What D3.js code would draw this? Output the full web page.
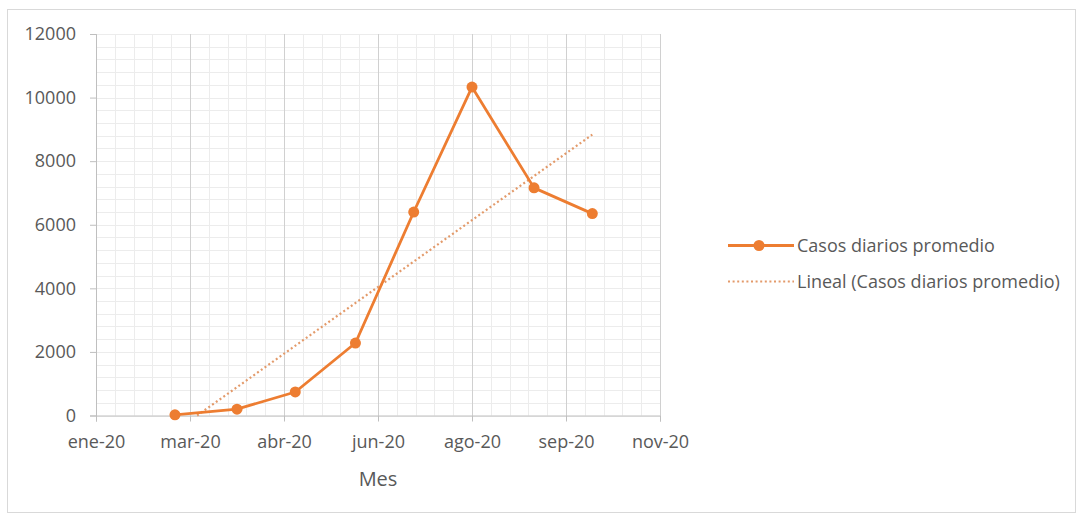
<!DOCTYPE html>
<html>
<head>
<meta charset="utf-8">
<script src="https://cdn.jsdelivr.net/npm/d3@7"></script>
<style>
  html, body { margin: 0; padding: 0; background: #fff; }
  svg { display: block; }
  text { font-family: "Open Sans", sans-serif; fill: #595959; }
</style>
</head>
<body>
<svg id="chart" width="1079" height="515"></svg>
<script>
// Monthly average of daily cases, 2020
const pointDates = ["2020-03-02", "2020-04-04", "2020-05-05", "2020-06-06",
                    "2020-07-07", "2020-08-07", "2020-09-09", "2020-10-10"];
const casosPromedio = [20, 200, 740, 2280, 6400, 10330, 7160, 6350];

// Axis settings (date axis: min, max, step in days)
const xMinDate = "2020-01-20";
const xMaxDate = "2020-11-15";
const xMajorDays = 50;
const xMinorDays = 10;
const yTicks = [0, 2000, 4000, 6000, 8000, 10000, 12000];
const yMinorStep = 400;

const seriesName = "Casos diarios promedio";
const trendName = "Lineal (Casos diarios promedio)";
const xTitle = "Mes";

const orange = "#ED7D31";
const trendColor = "#e39a6a";
const months = ["ene", "feb", "mar", "abr", "may", "jun", "jul", "ago", "sep", "oct", "nov", "dic"];
const fmtDate = d => months[d.getUTCMonth()] + "-" + String(d.getUTCFullYear()).slice(2);

const svg = d3.select("#chart");
const parse = d3.utcParse("%Y-%m-%d");
const dayMs = 86400000;

const x0 = parse(xMinDate), x1 = parse(xMaxDate);
const x = d3.scaleUtc().domain([x0, x1]).range([96, 660]);
const y = d3.scaleLinear().domain([0, 12000]).range([415.5, 34]);

const data = pointDates.map((d, i) => ({ date: parse(d), value: casosPromedio[i] }));

// chart frame
svg.append("rect").attr("x", 7.5).attr("y", 9.5).attr("width", 1068).attr("height", 503)
  .attr("fill", "#fff").attr("stroke", "#d9d9d9");

const span = (x1 - x0) / dayMs;
const majorX = d3.range(0, span + 1, xMajorDays).map(k => new Date(+x0 + k * dayMs));
const minorX = d3.range(0, span + 1, xMinorDays).map(k => new Date(+x0 + k * dayMs));
const minorY = d3.range(0, 12001, yMinorStep);

const grid = svg.append("g");
grid.selectAll("line.hmin").data(minorY).join("line")
  .attr("x1", x.range()[0]).attr("x2", x.range()[1])
  .attr("y1", d => Math.round(y(d)) + 0.5).attr("y2", d => Math.round(y(d)) + 0.5)
  .attr("stroke", "#ececec");
grid.selectAll("line.vmin").data(minorX).join("line")
  .attr("x1", d => Math.round(x(d)) + 0.5).attr("x2", d => Math.round(x(d)) + 0.5)
  .attr("y1", y(12000)).attr("y2", y(0))
  .attr("stroke", "#ececec");
grid.selectAll("line.vmaj").data(majorX).join("line")
  .attr("x1", d => Math.round(x(d)) + 0.5).attr("x2", d => Math.round(x(d)) + 0.5)
  .attr("y1", y(12000)).attr("y2", y(0))
  .attr("stroke", "#d0d0d0");

// axes
const yAxis = svg.append("g").attr("transform", `translate(${x.range()[0]},0)`)
  .call(d3.axisLeft(y).tickValues(yTicks).tickSize(6).tickPadding(14).tickFormat(d3.format("d")));
const xAxis = svg.append("g").attr("transform", `translate(0,${y(0)})`)
  .call(d3.axisBottom(x).tickValues(majorX).tickSize(6).tickPadding(14).tickFormat(fmtDate));
[yAxis, xAxis].forEach(g => {
  g.select(".domain").attr("stroke", "#bfbfbf");
  g.selectAll(".tick line").attr("stroke", "#bfbfbf");
  g.selectAll(".tick text").attr("font-size", 18).attr("fill", "#595959")
    .style("font-family", "'Open Sans', sans-serif");
});

svg.append("text").attr("x", x(majorX[3])).attr("y", 486).attr("text-anchor", "middle")
  .attr("font-size", 20).text(xTitle);

// linear trend (least squares on date values), clipped to plot area
const xs = data.map(d => (d.date - x0) / dayMs), ys = data.map(d => d.value);
const mx = d3.mean(xs), my = d3.mean(ys);
const slope = d3.sum(xs, (v, i) => (v - mx) * (ys[i] - my)) / d3.sum(xs, v => (v - mx) ** 2);
const icpt = my - slope * mx;
const trendAt = t => icpt + slope * t;
let tStart = xs[0];
if (trendAt(tStart) < 0) tStart = -icpt / slope;
const tEnd = xs[xs.length - 1];
const trend = [tStart, tEnd].map(t => ({ date: new Date(+x0 + t * dayMs), value: trendAt(t) }));

svg.append("path").datum(trend)
  .attr("d", d3.line().x(d => x(d.date)).y(d => y(d.value)))
  .attr("fill", "none").attr("stroke", trendColor).attr("stroke-width", 2.2)
  .attr("stroke-dasharray", "2,2.6");

// series
svg.append("path").datum(data)
  .attr("d", d3.line().x(d => x(d.date)).y(d => y(d.value)))
  .attr("fill", "none").attr("stroke", orange).attr("stroke-width", 2.8)
  .attr("stroke-linejoin", "round");
svg.selectAll("circle.pt").data(data).join("circle")
  .attr("cx", d => x(d.date)).attr("cy", d => y(d.value)).attr("r", 5.5)
  .attr("fill", orange);

// legend
const lg = svg.append("g");
lg.append("line").attr("x1", 728).attr("x2", 794).attr("y1", 245.5).attr("y2", 245.5)
  .attr("stroke", orange).attr("stroke-width", 2.8);
lg.append("circle").attr("cx", 759).attr("cy", 245.5).attr("r", 5.5).attr("fill", orange);
lg.append("text").attr("x", 797).attr("y", 252).attr("font-size", 18).text(seriesName);
lg.append("line").attr("x1", 728).attr("x2", 794).attr("y1", 281.5).attr("y2", 281.5)
  .attr("stroke", trendColor).attr("stroke-width", 2).attr("stroke-dasharray", "2,2.6");
lg.append("text").attr("x", 797).attr("y", 288).attr("font-size", 18).text(trendName);
</script>
</body>
</html>
